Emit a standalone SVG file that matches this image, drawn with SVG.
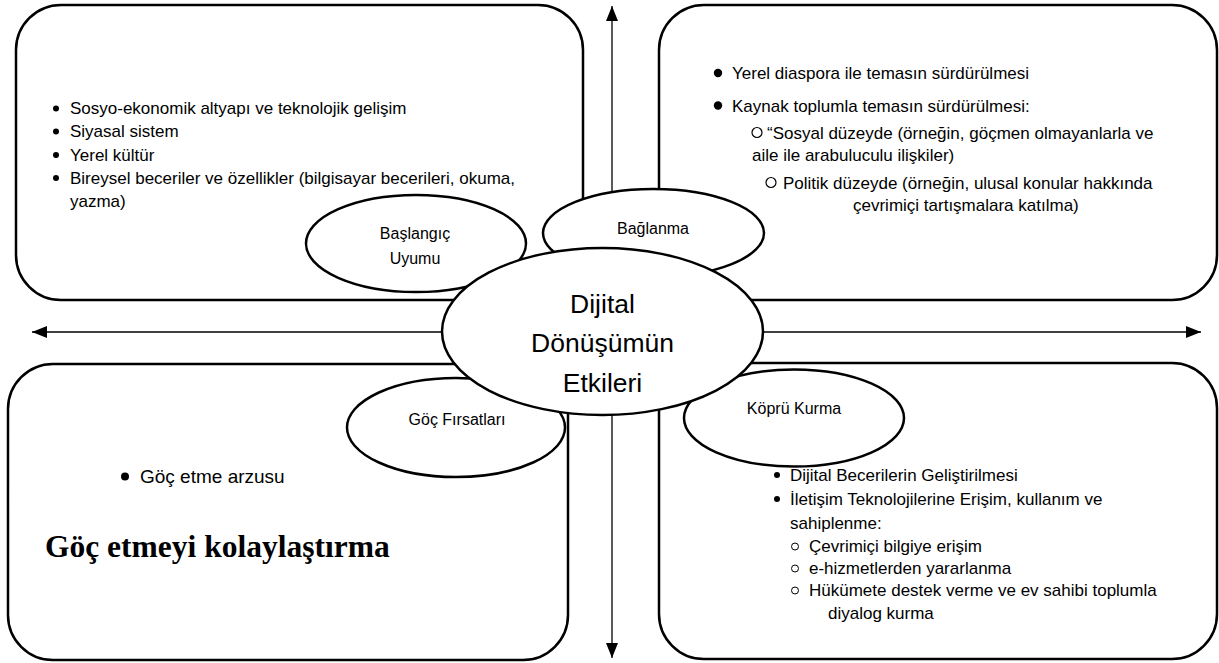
<svg xmlns="http://www.w3.org/2000/svg" width="1219" height="663" viewBox="0 0 1219 663">
<style>
.box{fill:#fff;stroke:#000;stroke-width:2.5}
.ell{fill:#fff;stroke:#000;stroke-width:2.5}
.axis{fill:none;stroke:#000;stroke-width:1.3}
.t{font-family:"Liberation Sans",Arial,sans-serif;font-size:17px;fill:#000}
.lbl{font-family:"Liberation Sans",Arial,sans-serif;font-size:16px;fill:#000;text-anchor:middle}
.big{font-family:"Liberation Sans",Arial,sans-serif;font-size:26.5px;fill:#000;text-anchor:middle}
.title{font-family:"Liberation Serif","Times New Roman",serif;font-size:31.5px;font-weight:bold;fill:#000}
.dot{fill:#000}
.ring{fill:none;stroke:#000;stroke-width:1.2}
</style>
<defs>
<marker id="arr" viewBox="0 0 15 12" refX="15" refY="6" markerWidth="15" markerHeight="12" markerUnits="userSpaceOnUse" orient="auto-start-reverse">
<path d="M0,0 L15,6 L0,12 z" fill="#000"/>
</marker>
</defs>
<g id="connectors">
<line class="axis" x1="612" y1="6" x2="612" y2="658" marker-start="url(#arr)" marker-end="url(#arr)"/>
<line class="axis" x1="32" y1="332" x2="1201" y2="332" marker-start="url(#arr)" marker-end="url(#arr)"/>
</g>
<g id="box-top-left">
<rect class="box" x="16" y="5" width="567" height="295" rx="45" ry="45"/>
<circle class="dot" cx="56" cy="108.5" r="3"/>
<circle class="dot" cx="56" cy="131.5" r="3"/>
<circle class="dot" cx="56" cy="155" r="3"/>
<circle class="dot" cx="56" cy="178" r="3"/>
<text class="t" x="70" y="114">Sosyo-ekonomik altyapı ve teknolojik gelişim</text>
<text class="t" x="70" y="137">Siyasal sistem</text>
<text class="t" x="70" y="160.5">Yerel kültür</text>
<text class="t" x="70" y="183.5">Bireysel beceriler ve özellikler (bilgisayar becerileri, okuma,</text>
<text class="t" x="70" y="206.5">yazma)</text>
</g>
<g id="box-top-right">
<rect class="box" x="659" y="5" width="558" height="295" rx="45" ry="45"/>
<circle class="dot" cx="718" cy="73" r="4.2"/>
<text class="t" x="732" y="78.5">Yerel diaspora ile temasın sürdürülmesi</text>
<circle class="dot" cx="718" cy="105.5" r="4.2"/>
<text class="t" x="732" y="111.5">Kaynak toplumla temasın sürdürülmesi:</text>
<circle class="ring" cx="757" cy="132.5" r="5"/>
<text class="t" x="767" y="138.5">“Sosyal düzeyde (örneğin, göçmen olmayanlarla ve</text>
<text class="t" x="752" y="160.5">aile ile arabuluculu ilişkiler)</text>
<circle class="ring" cx="771" cy="182.5" r="5"/>
<text class="t" x="783" y="188.5">Politik düzeyde (örneğin, ulusal konular hakkında</text>
<text class="t" x="853" y="210.5">çevrimiçi tartışmalara katılma)</text>
</g>
<g id="box-bottom-left">
<rect class="box" x="8" y="364" width="560" height="296" rx="45" ry="45"/>
<circle class="dot" cx="125" cy="476.5" r="4"/>
<text class="t" x="140" y="483" style="font-size:19px">Göç etme arzusu</text>
<text class="title" x="45" y="557">Göç etmeyi kolaylaştırma</text>
</g>
<g id="box-bottom-right">
<rect class="box" x="659" y="363" width="558" height="296" rx="45" ry="45"/>
<circle class="dot" cx="777" cy="475" r="3"/>
<text class="t" x="790" y="480.5">Dijital Becerilerin Geliştirilmesi</text>
<circle class="dot" cx="777" cy="499" r="3"/>
<text class="t" x="790" y="504.5">İletişim Teknolojilerine Erişim, kullanım ve</text>
<text class="t" x="790" y="528.5">sahiplenme:</text>
<circle class="ring" cx="795" cy="546.5" r="3.5" style="stroke-width:1"/>
<text class="t" x="809" y="551.5">Çevrimiçi bilgiye erişim</text>
<circle class="ring" cx="795" cy="568.5" r="3.5" style="stroke-width:1"/>
<text class="t" x="809" y="573.5">e-hizmetlerden yararlanma</text>
<circle class="ring" cx="795" cy="590.5" r="3.5" style="stroke-width:1"/>
<text class="t" x="809" y="595.5">Hükümete destek verme ve ev sahibi toplumla</text>
<text class="t" x="828" y="618.5">diyalog kurma</text>
</g>
<g id="node-baslangic">
<ellipse class="ell" cx="416" cy="243.5" rx="110" ry="48.5"/>
<text class="lbl" x="415" y="239">Başlangıç</text>
<text class="lbl" x="415" y="263.5">Uyumu</text>
</g>
<g id="node-baglanma">
<ellipse class="ell" cx="653.5" cy="233" rx="110.5" ry="44"/>
<text class="lbl" x="653" y="233.5">Bağlanma</text>
</g>
<g id="node-goc-firsatlari">
<ellipse class="ell" cx="456" cy="427.5" rx="109" ry="49.5"/>
<text class="lbl" x="457" y="424.5">Göç Fırsatları</text>
</g>
<g id="node-kopru-kurma">
<ellipse class="ell" cx="794" cy="418" rx="110" ry="48.5"/>
<text class="lbl" x="794" y="413.5">Köprü Kurma</text>
</g>
<g id="node-center">
<ellipse class="ell" cx="602.5" cy="331.5" rx="160.5" ry="83.5"/>
<text class="big" x="602.5" y="312.5">Dijital</text>
<text class="big" x="602.5" y="352">Dönüşümün</text>
<text class="big" x="602.5" y="391.5">Etkileri</text>
</g>
</svg>
